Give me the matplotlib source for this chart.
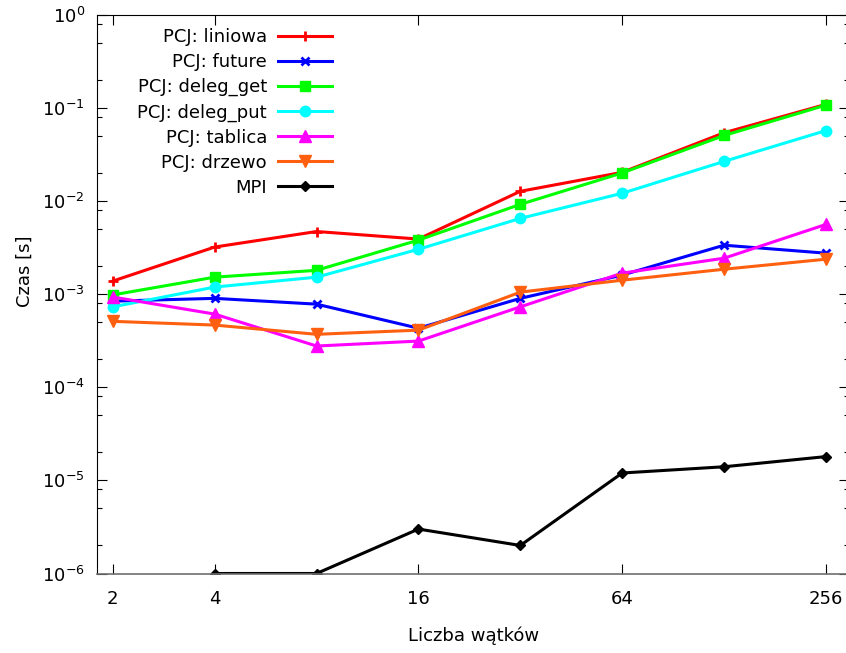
import numpy as np
import matplotlib
matplotlib.use("Agg")
import matplotlib.pyplot as plt
from matplotlib.ticker import FixedLocator, NullLocator, FixedFormatter

threads = [2, 4, 8, 16, 32, 64, 128, 256]
x_ticks = [2, 4, 16, 64, 256]
x_tick_labels = ["2", "4", "16", "64", "256"]

liniowa = [1.38e-3, 3.2e-3, 4.7e-3, 3.9e-3, 1.27e-2, 2.03e-2, 5.4e-2, 0.109]
future = [8.4e-4, 9.0e-4, 7.8e-4, 4.3e-4, 9.0e-4, 1.6e-3, 3.35e-3, 2.75e-3]
deleg_get = [9.8e-4, 1.52e-3, 1.8e-3, 3.8e-3, 9.2e-3, 2.0e-2, 5.05e-2, 0.107]
deleg_put = [7.3e-4, 1.19e-3, 1.52e-3, 3.03e-3, 6.5e-3, 1.21e-2, 2.66e-2, 5.7e-2]
tablica = [9.3e-4, 6.1e-4, 2.77e-4, 3.13e-4, 7.3e-4, 1.68e-3, 2.43e-3, 5.6e-3]
drzewo = [5.1e-4, 4.65e-4, 3.7e-4, 4.1e-4, 1.05e-3, 1.41e-3, 1.85e-3, 2.37e-3]
mpi = [np.nan, 1e-6, 1e-6, 3e-6, 2e-6, 1.2e-5, 1.4e-5, 1.8e-5]

labels = ["PCJ: liniowa", "PCJ: future", "PCJ: deleg_get", "PCJ: deleg_put",
          "PCJ: tablica", "PCJ: drzewo", "MPI"]

plt.rcParams['font.family'] = ['DejaVu Sans']
plt.rcParams['mathtext.fontset'] = 'dejavusans'

W, H = 846, 653
fig = plt.figure(figsize=(W / 100, H / 100), dpi=100)
left, right, top, bottom = 97.3, 849.3, 14.7, 573.5
ax = fig.add_axes([left / W, 1 - bottom / H, (right - left) / W, (bottom - top) / H])

series = [
    (liniowa, "#ff0000", "+", 7, 2.0),
    (future, "#0000ff", "x", 6, 2.0),
    (deleg_get, "#00ff00", "s", 7, 1.0),
    (deleg_put, "#00ffff", "o", 7.5, 1.0),
    (tablica, "#ff00ff", "^", 8, 1.0),
    (drzewo, "#ff6010", "v", 8, 1.0),
    (mpi, "#000000", "D", 5, 1.0),
]
for (vals, col, mk, ms, mew), lab in zip(series, labels):
    ax.plot(threads, vals, color=col, lw=2.2, marker=mk, markersize=ms,
            markeredgewidth=mew, markeredgecolor=col, markerfacecolor=col,
            label=lab, solid_joinstyle='round')

ax.set_xscale('log', base=2)
ax.set_yscale('log')
ax.set_xlim(1.8, 300)
ax.set_ylim(1e-6, 1)

ax.xaxis.set_major_locator(FixedLocator(x_ticks))
ax.xaxis.set_major_formatter(FixedFormatter(x_tick_labels))
ax.xaxis.set_minor_locator(NullLocator())

yt = [10.0 ** e for e in range(-6, 1)]
ax.yaxis.set_major_locator(FixedLocator(yt))
ax.yaxis.set_major_formatter(FixedFormatter([r"$\mathregular{10^{%d}}$" % e for e in range(-6, 1)]))
minors = [k * 10.0 ** e for e in range(-7, 0) for k in (2, 5, 8)]
ax.yaxis.set_minor_locator(FixedLocator(minors))
ax.yaxis.set_minor_formatter(FixedFormatter([""] * len(minors)))

ax.tick_params(which='both', direction='in', top=True, right=True, width=0.8, color='black')
ax.tick_params(which='major', length=7, labelsize=13)
ax.tick_params(which='minor', length=3.6)
ax.tick_params(axis='x', which='major', pad=12)
ax.tick_params(axis='y', which='major', pad=9)

for s in ['left', 'top', 'right']:
    ax.spines[s].set_color('black')
    ax.spines[s].set_linewidth(0.8)
ax.spines['bottom'].set_color('#707070')
ax.spines['bottom'].set_linewidth(1.2)

ax.set_xlabel("Liczba wątków", fontsize=13)
ax.set_ylabel("Czas [s]", fontsize=13)
ax.xaxis.set_label_coords(0.5, -(636 - bottom) / (bottom - top), transform=ax.transAxes)
ax.yaxis.set_label_coords(-(left - 25) / (right - left), (bottom - 271) / (bottom - top))
ax.xaxis.label.set_va('center')
ax.yaxis.label.set_va('center')

leg = ax.legend(loc='upper right', bbox_to_anchor=(332 / W, 1 - 28 / H),
                bbox_transform=fig.transFigure, frameon=False, markerfirst=False,
                fontsize=13, handlelength=3.0, handletextpad=0.6, labelspacing=0.39,
                borderpad=0, borderaxespad=0)

fig.savefig("out.png", dpi=100)
